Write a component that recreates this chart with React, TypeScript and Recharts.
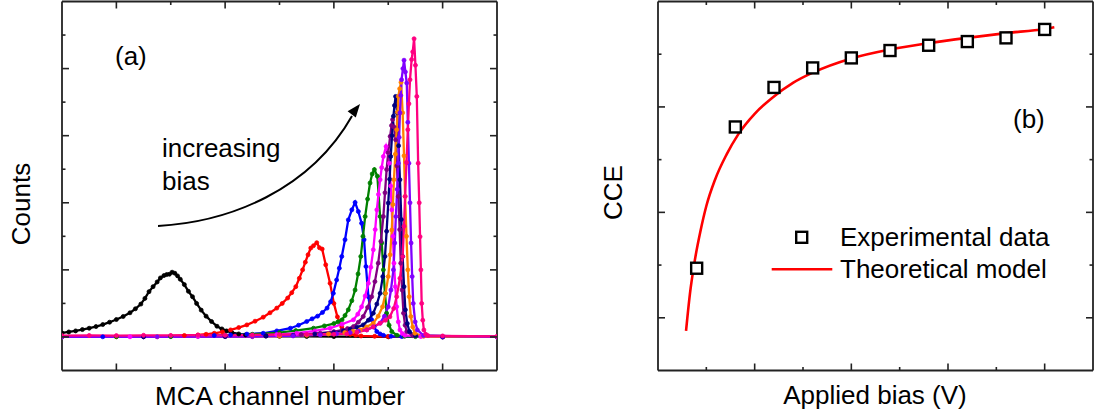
import React from 'react';
import { LineChart, Line, XAxis, YAxis, ComposedChart, Scatter } from 'recharts';

const FONT = '"Liberation Sans", Arial, Helvetica, sans-serif';
const AXIS = '#222';

// panel (a): pulse height spectra, MCA channel vs counts
const biasLabels = ['40 V', '80 V', '120 V', '160 V', '200 V', '240 V', '280 V', '320 V', '360 V', '400 V'];
const spectrumColors = ['#000000', '#ff0000', '#0000ff', '#008000', '#ff00ff', '#800080', '#000080', '#ff8000', '#8000ff', '#ff0080'];

const ch40 = [0, 25, 50, 75, 100, 125, 150, 175, 200, 225, 250, 270, 290, 305, 320, 335, 350, 362, 375, 385, 395, 405, 415, 425, 435, 450, 465, 480, 495, 512, 530, 550, 570, 588, 605, 625, 650, 675, 700, 750, 800, 900, 1000, 1200, 1400, 1600];
const counts40 = [120, 150, 180, 220, 260, 310, 370, 440, 520, 610, 720, 840, 980, 1150, 1350, 1500, 1640, 1760, 1830, 1860, 1870, 1930, 1900, 1820, 1720, 1560, 1360, 1200, 1000, 800, 620, 460, 320, 240, 180, 130, 90, 60, 40, 30, 20, 15, 10, 5, 0, 0];

const ch80 = [0, 200, 400, 450, 500, 530, 560, 590, 620, 650, 680, 710, 740, 765, 790, 810, 830, 845, 860, 873, 885, 895, 905, 915, 925, 937, 947, 957, 970, 986, 1000, 1013, 1029, 1045, 1060, 1080, 1100, 1150, 1200, 1400, 1600];
const counts80 = [0, 10, 30, 45, 60, 80, 110, 150, 210, 280, 360, 470, 590, 720, 860, 1000, 1160, 1320, 1500, 1750, 2000, 2230, 2450, 2650, 2720, 2810, 2660, 2620, 2150, 1600, 1000, 600, 300, 150, 80, 50, 30, 20, 10, 0, 0];

const ch120 = [0, 150, 300, 400, 500, 560, 620, 680, 740, 790, 840, 870, 900, 920, 940, 958, 975, 988, 998, 1010, 1020, 1029, 1041, 1053, 1066, 1078, 1090, 1102, 1111, 1118, 1127, 1139, 1148, 1158, 1170, 1182, 1210, 1250, 1400, 1600];
const counts120 = [0, 5, 10, 20, 30, 45, 60, 85, 110, 180, 260, 350, 460, 540, 620, 730, 860, 1050, 1300, 1700, 2050, 2400, 2900, 3490, 3790, 4010, 3740, 3390, 2900, 2100, 1200, 510, 300, 160, 90, 50, 20, 10, 0, 0];

const ch160 = [0, 200, 400, 500, 600, 700, 800, 860, 925, 965, 1000, 1015, 1030, 1041, 1053, 1066, 1078, 1089, 1099, 1107, 1115, 1124, 1133, 1141, 1149, 1160, 1170, 1176, 1182, 1188, 1194, 1203, 1213, 1232, 1260, 1300, 1600];
const counts160 = [0, 5, 10, 20, 40, 80, 130, 190, 260, 330, 400, 450, 510, 640, 810, 1080, 1400, 1880, 2400, 3000, 3590, 4110, 4590, 4860, 4990, 4790, 3590, 2800, 2000, 1300, 710, 350, 160, 50, 20, 10, 0];

const ch200 = [0, 250, 500, 600, 700, 790, 863, 930, 986, 1030, 1072, 1088, 1102, 1115, 1127, 1136, 1145, 1152, 1158, 1164, 1170, 1176, 1182, 1192, 1198, 1204, 1209, 1213, 1217, 1221, 1226, 1231, 1237, 1243, 1252, 1262, 1320, 1600];
const counts200 = [0, 5, 10, 20, 40, 70, 110, 180, 260, 380, 510, 680, 900, 1220, 1600, 2080, 2600, 3200, 3790, 4250, 4690, 5050, 5380, 5680, 5500, 5180, 4500, 3790, 3000, 2200, 1500, 900, 450, 210, 100, 50, 10, 0];

const ch240 = [0, 300, 600, 700, 800, 880, 950, 1000, 1030, 1050, 1072, 1090, 1108, 1124, 1139, 1151, 1163, 1173, 1182, 1188, 1194, 1200, 1207, 1212, 1216, 1222, 1227, 1232, 1237, 1242, 1246, 1251, 1256, 1262, 1268, 1290, 1600];
const counts240 = [0, 5, 10, 20, 40, 70, 110, 160, 200, 250, 310, 440, 610, 880, 1200, 1650, 2200, 2850, 3590, 4300, 4990, 5500, 5980, 6300, 6480, 6250, 5880, 5100, 4190, 3200, 2200, 1400, 710, 350, 160, 40, 0];

const ch280 = [0, 300, 600, 750, 850, 930, 1000, 1035, 1060, 1085, 1108, 1127, 1145, 1158, 1170, 1180, 1188, 1194, 1200, 1205, 1209, 1214, 1219, 1223, 1227, 1233, 1238, 1243, 1248, 1253, 1258, 1263, 1270, 1278, 1300, 1600];
const counts280 = [0, 5, 10, 25, 50, 90, 130, 180, 230, 290, 360, 500, 710, 980, 1300, 1800, 2400, 3150, 3990, 4700, 5380, 6000, 6580, 6900, 7170, 6680, 5700, 4690, 3500, 2400, 1500, 810, 400, 160, 40, 0];

const ch320 = [0, 350, 700, 800, 900, 980, 1040, 1070, 1096, 1120, 1145, 1163, 1179, 1190, 1200, 1207, 1213, 1217, 1221, 1226, 1231, 1234, 1237, 1242, 1247, 1253, 1258, 1262, 1267, 1272, 1277, 1283, 1290, 1298, 1330, 1600];
const counts320 = [0, 5, 10, 25, 50, 90, 130, 170, 210, 300, 410, 620, 900, 1300, 1800, 2450, 3190, 3950, 4690, 5450, 6180, 6700, 7170, 7400, 7590, 6680, 5400, 4190, 3000, 2000, 1200, 610, 300, 110, 20, 0];

const ch360 = [0, 350, 700, 850, 950, 1010, 1060, 1090, 1121, 1145, 1170, 1186, 1200, 1210, 1219, 1224, 1228, 1233, 1237, 1240, 1243, 1246, 1249, 1254, 1258, 1263, 1268, 1272, 1276, 1280, 1284, 1288, 1292, 1299, 1307, 1330, 1600];
const counts360 = [0, 5, 10, 30, 60, 95, 130, 170, 210, 300, 410, 620, 900, 1400, 2000, 2800, 3590, 4400, 5180, 5950, 6680, 7200, 7670, 8000, 8250, 7900, 7570, 6400, 5180, 4000, 2800, 1800, 1000, 450, 210, 40, 0];

const ch400 = [0, 100, 200, 300, 400, 500, 600, 700, 800, 900, 1000, 1047, 1085, 1121, 1145, 1170, 1190, 1206, 1220, 1231, 1243, 1253, 1258, 1262, 1267, 1272, 1276, 1280, 1286, 1290, 1295, 1300, 1305, 1310, 1314, 1317, 1320, 1323, 1327, 1331, 1338, 1346, 1400, 1600];
const counts400 = [40, 45, 40, 50, 45, 55, 50, 60, 70, 75, 80, 90, 140, 210, 300, 410, 500, 600, 850, 1200, 1750, 2400, 3300, 4190, 5200, 6180, 6950, 7670, 8270, 8500, 8890, 8100, 7170, 5180, 4000, 2990, 2000, 1000, 500, 210, 80, 40, 30, 20];

const channels = [ch40, ch80, ch120, ch160, ch200, ch240, ch280, ch320, ch360, ch400];
const counts = [counts40, counts80, counts120, counts160, counts200, counts240, counts280, counts320, counts360, counts400];

const chTicks = [200, 400, 600, 800, 1000, 1200, 1400];
const chMajor = [200, 600, 1000, 1400];
const countTicks = [0, 1000, 2000, 3000, 4000, 5000, 6000, 7000, 8000, 9000];
const countMajor = [0, 2000, 4000, 6000, 8000];

// panel (b): charge collection efficiency vs applied bias
const biasV = [40, 80, 120, 160, 200, 240, 280, 320, 360, 400];
const cceMeasured = [0.494, 0.762, 0.837, 0.874, 0.893, 0.907, 0.917, 0.924, 0.931, 0.947];
const modelV = [29, 33, 38, 44, 50, 59, 71, 83, 100, 118, 140, 160, 200, 240, 280, 320, 360, 400, 410];
const cceModel = [0.375, 0.445, 0.508, 0.565, 0.612, 0.662, 0.71, 0.748, 0.787, 0.817, 0.846, 0.865, 0.892, 0.909, 0.921, 0.931, 0.94, 0.948, 0.951];

const biasTicks = [50, 100, 150, 200, 250, 300, 350, 400];
const biasMajor = [100, 200, 300, 400];
const cceTicks = [0.4, 0.5, 0.6, 0.7, 0.8, 0.9];
const cceMajor = [0.4, 0.6, 0.8];

const spectra = channels.map((chs, i) => ({
  name: biasLabels[i],
  color: spectrumColors[i],
  data: chs.map((c, j) => ({ ch: c, counts: counts[i][j] })),
}));
const measured = biasV.map((v, i) => ({ v, cce: cceMeasured[i] }));
const model = modelV.map((v, i) => ({ v, cce: cceModel[i] }));

const isMajor = (majors: number[], value: number) => majors.some((m) => Math.abs(m - value) < 1e-6);

// inward tick marks, long on majors and short on minors
function makeTick(side: 'bottom' | 'top' | 'left' | 'right', majors: number[]) {
  return (props: any) => {
    const { x, y, payload } = props;
    const len = isMajor(majors, payload.value) ? 7 : 3.5;
    let x2 = x;
    let y2 = y;
    if (side === 'bottom') y2 = y - len;
    if (side === 'top') y2 = y + len;
    if (side === 'left') x2 = x + len;
    if (side === 'right') x2 = x - len;
    return <line x1={x} y1={y} x2={x2} y2={y2} stroke={AXIS} strokeWidth={1.6} />;
  };
}

const axisCommon = {
  type: 'number' as const,
  allowDataOverflow: true,
  tickLine: false,
  tickSize: 0,
  tickMargin: 0,
  interval: 0 as const,
  axisLine: { stroke: AXIS, strokeWidth: 1.8 },
};

const Square = (props: any) => {
  const { cx, cy } = props;
  return <rect x={cx - 5.5} y={cy - 5.5} width={11} height={11} fill="#fff" stroke="#000" strokeWidth={2.4} />;
};

export default function App() {
  return (
    <div style={{ position: 'absolute', left: 0, top: 0, width: 1097, height: 419, background: '#fff', fontFamily: FONT }}>
      <div style={{ position: 'absolute', left: 0, top: 0 }}>
        <LineChart width={520} height={419} margin={{ top: 0.5, right: 22, bottom: 47.5, left: 61 }}>
          <XAxis xAxisId="b" dataKey="ch" domain={[0, 1600]} ticks={chTicks} height={1} orientation="bottom" tick={makeTick('bottom', chMajor)} {...axisCommon} />
          <XAxis xAxisId="t" dataKey="ch" domain={[0, 1600]} ticks={chTicks} height={1} orientation="top" tick={makeTick('top', chMajor)} {...axisCommon} />
          <YAxis yAxisId="l" dataKey="counts" domain={[-1000, 10000]} ticks={countTicks} width={1} orientation="left" tick={makeTick('left', countMajor)} {...axisCommon} />
          <YAxis yAxisId="r" dataKey="counts" domain={[-1000, 10000]} ticks={countTicks} width={1} orientation="right" tick={makeTick('right', countMajor)} {...axisCommon} />
          {spectra.map((s) => (
            <Line
              key={s.name}
              name={s.name}
              data={s.data}
              xAxisId="b"
              yAxisId="l"
              dataKey="counts"
              type="linear"
              stroke={s.color}
              strokeWidth={2.3}
              dot={{ r: 2, fill: s.color, stroke: s.color, strokeWidth: 0.8 }}
              isAnimationActive={false}
            />
          ))}
        </LineChart>
      </div>
      <div style={{ position: 'absolute', left: 560, top: 0 }}>
        <ComposedChart width={537} height={419} margin={{ top: 0.5, right: 3, bottom: 47.5, left: 97 }}>
          <XAxis xAxisId="b" dataKey="v" domain={[0, 450]} ticks={biasTicks} height={1} orientation="bottom" tick={makeTick('bottom', biasMajor)} {...axisCommon} />
          <XAxis xAxisId="t" dataKey="v" domain={[0, 450]} ticks={biasTicks} height={1} orientation="top" tick={makeTick('top', biasMajor)} {...axisCommon} />
          <YAxis yAxisId="l" dataKey="cce" domain={[0.3, 1.0]} ticks={cceTicks} width={1} orientation="left" tick={makeTick('left', cceMajor)} {...axisCommon} />
          <YAxis yAxisId="r" dataKey="cce" domain={[0.3, 1.0]} ticks={cceTicks} width={1} orientation="right" tick={makeTick('right', cceMajor)} {...axisCommon} />
          <Line
            name="Theoretical model"
            data={model}
            xAxisId="b"
            yAxisId="l"
            dataKey="cce"
            type="monotone"
            stroke="#ff0000"
            strokeWidth={2.6}
            dot={false}
            isAnimationActive={false}
          />
          <Scatter
            name="Experimental data"
            data={measured}
            xAxisId="b"
            yAxisId="l"
            dataKey="cce"
            shape={Square}
            isAnimationActive={false}
          />
        </ComposedChart>
      </div>
      <svg
        width={1097}
        height={419}
        style={{ position: 'absolute', left: 0, top: 0, pointerEvents: 'none' }}
        fontFamily={FONT}
        fontSize={26}
      >
        {/* panel (a) labels */}
        <text x={115} y={64.5} fill="#000">(a)</text>
        <text x={162} y={157} fill="#000">increasing</text>
        <text x={162} y={190} fill="#000">bias</text>
        <path d="M158,226 C230,222 310,190 352,116" fill="none" stroke="#000" strokeWidth={2} />
        <polygon points="360,104 355.8,117.6 347.6,111.2" fill="#000" />
        <text x={280} y={405} textAnchor="middle" fill="#000">MCA channel number</text>
        <text transform="translate(30,204) rotate(-90)" textAnchor="middle" fill="#000">Counts</text>

        {/* panel (b) labels */}
        <text x={1013} y={128} fill="#000">(b)</text>
        <text x={875} y={404} textAnchor="middle" fill="#000">Applied bias (V)</text>
        <text transform="translate(622,192.5) rotate(-90)" textAnchor="middle" fill="#000">CCE</text>
        <rect x={796.2} y={231.8} width={11} height={11} fill="#fff" stroke="#000" strokeWidth={2.4} />
        <text x={840} y={246} fill="#000">Experimental data</text>
        <line x1={771.7} y1={269.3} x2={832.3} y2={269.3} stroke="#ff0000" strokeWidth={2.6} />
        <text x={840} y={278.3} fill="#000">Theoretical model</text>
      </svg>
    </div>
  );
}
